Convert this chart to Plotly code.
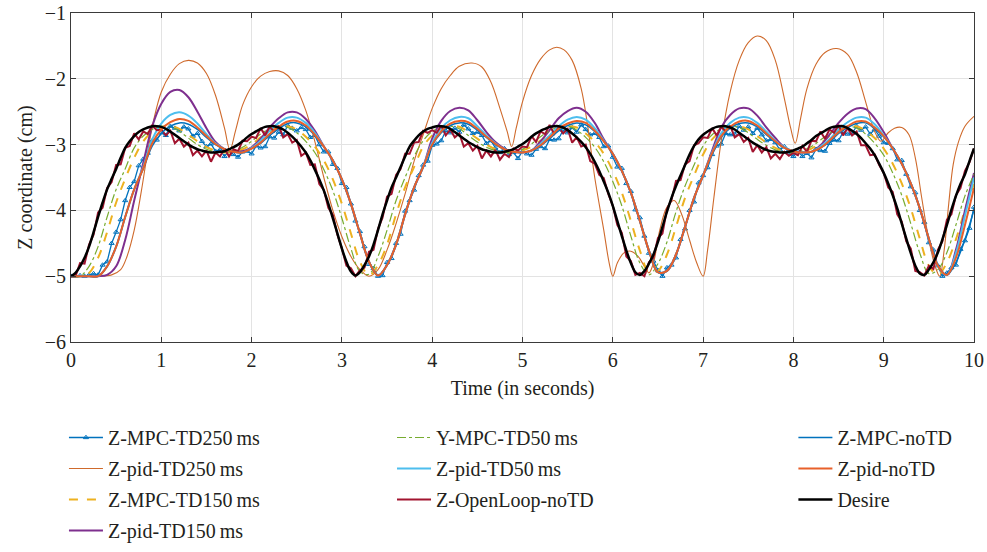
import plotly.graph_objects as go

# ---------------- time grids ----------------
time_fine = [0.00,0.05,0.10,0.15,0.20,0.25,0.30,0.35,0.40,0.45,0.50,0.55,0.60,0.65,0.70,0.75,0.80,0.85,0.90,0.95,
1.00,1.05,1.10,1.15,1.20,1.25,1.30,1.35,1.40,1.45,1.50,1.55,1.60,1.65,1.70,1.75,1.80,1.85,1.90,1.95,
2.00,2.05,2.10,2.15,2.20,2.25,2.30,2.35,2.40,2.45,2.50,2.55,2.60,2.65,2.70,2.75,2.80,2.85,2.90,2.95,
3.00,3.05,3.10,3.15,3.20,3.25,3.30,3.35,3.40,3.45,3.50,3.55,3.60,3.65,3.70,3.75,3.80,3.85,3.90,3.95,
4.00,4.05,4.10,4.15,4.20,4.25,4.30,4.35,4.40,4.45,4.50,4.55,4.60,4.65,4.70,4.75,4.80,4.85,4.90,4.95,
5.00,5.05,5.10,5.15,5.20,5.25,5.30,5.35,5.40,5.45,5.50,5.55,5.60,5.65,5.70,5.75,5.80,5.85,5.90,5.95,
6.00,6.05,6.10,6.15,6.20,6.25,6.30,6.35,6.40,6.45,6.50,6.55,6.60,6.65,6.70,6.75,6.80,6.85,6.90,6.95,
7.00,7.05,7.10,7.15,7.20,7.25,7.30,7.35,7.40,7.45,7.50,7.55,7.60,7.65,7.70,7.75,7.80,7.85,7.90,7.95,
8.00,8.05,8.10,8.15,8.20,8.25,8.30,8.35,8.40,8.45,8.50,8.55,8.60,8.65,8.70,8.75,8.80,8.85,8.90,8.95,
9.00,9.05,9.10,9.15,9.20,9.25,9.30,9.35,9.40,9.45,9.50,9.55,9.60,9.65,9.70,9.75,9.80,9.85,9.90,9.95,
10.00]

time_coarse = [0.0,0.1,0.2,0.3,0.4,0.5,0.6,0.7,0.8,0.9,1.0,1.1,1.2,1.3,1.4,1.5,1.6,1.7,1.8,1.9,
2.0,2.1,2.2,2.3,2.4,2.5,2.6,2.7,2.8,2.9,3.0,3.1,3.2,3.3,3.4,3.5,3.6,3.7,3.8,3.9,
4.0,4.1,4.2,4.3,4.4,4.5,4.6,4.7,4.8,4.9,5.0,5.1,5.2,5.3,5.4,5.5,5.6,5.7,5.8,5.9,
6.0,6.1,6.2,6.3,6.4,6.5,6.6,6.7,6.8,6.9,7.0,7.1,7.2,7.3,7.4,7.5,7.6,7.7,7.8,7.9,
8.0,8.1,8.2,8.3,8.4,8.5,8.6,8.7,8.8,8.9,9.0,9.1,9.2,9.3,9.4,9.5,9.6,9.7,9.8,9.9,10.0]

# ---------------- series (fine grid) ----------------
z_desire = [-5.00,-4.95,-4.85,-4.72,-4.55,-4.33,-4.10,-3.88,-3.68,-3.52,
-3.37,-3.20,-3.05,-2.95,-2.87,-2.81,-2.77,-2.74,-2.72,-2.72,
-2.73,-2.76,-2.80,-2.85,-2.90,-2.95,-3.00,-3.04,-3.07,-3.09,
-3.11,-3.12,-3.12,-3.11,-3.10,-3.07,-3.04,-3.00,-2.95,-2.89,
-2.84,-2.80,-2.76,-2.73,-2.72,-2.72,-2.74,-2.77,-2.82,-2.88,
-2.95,-3.03,-3.12,-3.24,-3.38,-3.53,-3.70,-3.90,-4.12,-4.35,
-4.58,-4.78,-4.93,-4.99,-4.94,-4.83,-4.70,-4.52,-4.30,-4.06,
-3.85,-3.65,-3.50,-3.34,-3.18,-3.03,-2.94,-2.86,-2.80,-2.76,
-2.74,-2.72,-2.72,-2.73,-2.76,-2.81,-2.86,-2.91,-2.96,-3.00,
-3.04,-3.07,-3.09,-3.11,-3.12,-3.12,-3.11,-3.09,-3.07,-3.03,
-2.99,-2.94,-2.88,-2.83,-2.79,-2.76,-2.73,-2.72,-2.72,-2.74,
-2.78,-2.83,-2.89,-2.96,-3.04,-3.14,-3.26,-3.40,-3.56,-3.73,
-3.93,-4.16,-4.39,-4.61,-4.80,-4.94,-4.98,-4.92,-4.81,-4.67,
-4.48,-4.25,-4.02,-3.81,-3.63,-3.47,-3.31,-3.15,-3.02,-2.92,
-2.85,-2.80,-2.76,-2.73,-2.72,-2.72,-2.74,-2.77,-2.82,-2.87,
-2.92,-2.97,-3.01,-3.05,-3.08,-3.10,-3.11,-3.12,-3.12,-3.11,
-3.09,-3.06,-3.03,-2.98,-2.93,-2.87,-2.83,-2.79,-2.75,-2.73,
-2.72,-2.72,-2.75,-2.79,-2.84,-2.90,-2.98,-3.06,-3.16,-3.29,
-3.43,-3.59,-3.77,-3.97,-4.20,-4.43,-4.65,-4.84,-4.96,-4.98,
-4.90,-4.79,-4.64,-4.44,-4.22,-3.99,-3.78,-3.60,-3.45,-3.25,
-3.06]

z_openloop_notd = [-5.00,-5.00,-4.80,-4.81,-4.52,-4.37,-4.03,-3.96,-3.66,-3.57,
-3.31,-3.30,-3.05,-3.02,-2.83,-2.92,-2.80,-2.84,-2.71,-2.78,
-2.77,-2.86,-2.79,-2.98,-2.91,-3.03,-2.97,-3.16,-3.09,-3.18,
-3.09,-3.26,-3.12,-3.18,-3.06,-3.18,-3.07,-3.10,-2.94,-2.95,
-2.88,-2.90,-2.75,-2.86,-2.73,-2.80,-2.71,-2.89,-2.84,-2.97,
-2.93,-3.17,-3.12,-3.31,-3.30,-3.60,-3.69,-3.96,-4.07,-4.37,
-4.58,-4.84,-4.88,-5.00,-4.91,-4.87,-4.63,-4.60,-4.28,-4.11,
-3.79,-3.75,-3.46,-3.37,-3.14,-3.14,-2.97,-2.96,-2.79,-2.82,
-2.78,-2.82,-2.71,-2.86,-2.77,-2.89,-2.83,-3.03,-2.98,-3.09,
-3.02,-3.21,-3.09,-3.18,-3.08,-3.23,-3.14,-3.19,-3.06,-3.09,
-3.03,-3.04,-2.87,-2.96,-2.80,-2.84,-2.70,-2.84,-2.74,-2.83,
-2.76,-2.97,-2.89,-3.03,-3.00,-3.25,-3.29,-3.46,-3.51,-3.75,
-3.93,-4.22,-4.34,-4.70,-4.77,-4.98,-4.95,-5.00,-4.79,-4.72,
-4.42,-4.35,-3.98,-3.84,-3.55,-3.54,-3.30,-3.25,-3.01,-2.98,
-2.89,-2.90,-2.75,-2.86,-2.73,-2.80,-2.71,-2.89,-2.84,-2.96,
-2.90,-3.11,-3.01,-3.12,-3.04,-3.21,-3.14,-3.22,-3.11,-3.17,
-3.13,-3.16,-3.02,-3.11,-2.94,-2.95,-2.80,-2.91,-2.77,-2.82,
-2.70,-2.86,-2.75,-2.86,-2.80,-3.01,-3.01,-3.16,-3.15,-3.31,
-3.43,-3.65,-3.72,-4.06,-4.17,-4.47,-4.58,-4.92,-4.94,-4.99,
-4.84,-4.89,-4.60,-4.47,-4.14,-4.06,-3.77,-3.66,-3.40,-3.27,
-3.06]

z_mpc_td250 = [-5.00,-5.00,-4.99,-5.00,-4.98,-4.96,-4.98,-4.83,-4.78,-4.50,
-4.33,-4.14,-3.85,-3.65,-3.56,-3.32,-3.22,-3.13,-2.94,-2.93,
-2.82,-2.86,-2.72,-2.75,-2.79,-2.73,-2.76,-2.87,-2.83,-2.95,
-3.03,-2.99,-3.10,-3.08,-3.18,-3.09,-3.15,-3.19,-3.11,-3.10,
-3.14,-3.02,-3.05,-3.03,-2.88,-2.90,-2.81,-2.85,-2.71,-2.75,
-2.79,-2.74,-2.77,-2.89,-2.86,-3.00,-3.11,-3.11,-3.30,-3.36,
-3.59,-3.65,-3.90,-4.16,-4.32,-4.55,-4.82,-4.88,-5.00,-4.99,
-4.79,-4.73,-4.50,-4.36,-4.01,-3.85,-3.69,-3.47,-3.31,-3.25,
-3.01,-2.99,-2.94,-2.79,-2.82,-2.75,-2.81,-2.70,-2.76,-2.83,
-2.81,-2.86,-2.98,-2.94,-3.05,-3.12,-3.06,-3.15,-3.12,-3.21,
-3.10,-3.14,-3.16,-3.07,-3.03,-3.06,-2.92,-2.93,-2.91,-2.78,
-2.82,-2.74,-2.81,-2.70,-2.77,-2.85,-2.83,-2.89,-3.03,-3.02,
-3.19,-3.34,-3.36,-3.59,-3.71,-3.99,-4.11,-4.39,-4.65,-4.77,
-4.91,-5.00,-4.87,-4.83,-4.72,-4.44,-4.28,-4.00,-3.87,-3.58,
-3.47,-3.35,-3.15,-3.02,-2.99,-2.83,-2.85,-2.84,-2.72,-2.78,
-2.73,-2.83,-2.75,-2.85,-2.94,-2.92,-2.97,-3.08,-3.03,-3.13,
-3.18,-3.10,-3.18,-3.13,-3.20,-3.07,-3.09,-3.10,-2.98,-2.93,
-2.94,-2.81,-2.84,-2.83,-2.72,-2.78,-2.73,-2.84,-2.77,-2.87,
-2.97,-2.98,-3.06,-3.23,-3.24,-3.45,-3.64,-3.73,-4.00,-4.18,
-4.49,-4.60,-4.84,-5.00,-4.95,-4.87,-4.83,-4.59,-4.46,-4.27,
-3.95]

# ---------------- series (coarse grid) ----------------
y_mpc_td50 = [-5.00,-5.00,-4.85,-4.55,-4.10,-3.68,-3.37,-3.05,-2.87,-2.77,
-2.72,-2.73,-2.80,-2.90,-3.00,-3.07,-3.11,-3.12,-3.10,-3.04,
-2.95,-2.84,-2.76,-2.72,-2.74,-2.82,-2.95,-3.12,-3.38,-3.70,
-4.12,-4.58,-4.93,-4.97,-4.70,-4.30,-3.85,-3.50,-3.18,-2.94,
-2.80,-2.74,-2.72,-2.76,-2.86,-2.96,-3.04,-3.09,-3.12,-3.11,
-3.07,-2.99,-2.88,-2.79,-2.73,-2.72,-2.78,-2.89,-3.04,-3.26,
-3.56,-3.93,-4.39,-4.80,-4.98,-4.81,-4.48,-4.02,-3.63,-3.31,
-3.02,-2.85,-2.76,-2.72,-2.74,-2.82,-2.92,-3.01,-3.08,-3.11,
-3.12,-3.09,-3.03,-2.93,-2.83,-2.75,-2.72,-2.75,-2.84,-2.98,
-3.16,-3.43,-3.77,-4.20,-4.65,-4.96,-4.90,-4.64,-4.22,-3.78,
-3.45]

z_mpc_td150 = [-5.00,-5.00,-4.95,-4.72,-4.33,-3.88,-3.52,-3.20,-2.95,-2.81,
-2.74,-2.72,-2.76,-2.85,-2.95,-3.04,-3.09,-3.12,-3.11,-3.07,
-3.00,-2.89,-2.80,-2.73,-2.72,-2.77,-2.88,-3.03,-3.24,-3.53,
-3.90,-4.35,-4.78,-4.99,-4.83,-4.52,-4.06,-3.65,-3.34,-3.03,
-2.86,-2.76,-2.72,-2.73,-2.81,-2.91,-3.00,-3.07,-3.11,-3.12,
-3.09,-3.03,-2.94,-2.83,-2.76,-2.72,-2.74,-2.83,-2.96,-3.14,
-3.40,-3.73,-4.16,-4.61,-4.94,-4.92,-4.67,-4.25,-3.81,-3.47,
-3.15,-2.92,-2.80,-2.73,-2.72,-2.77,-2.87,-2.97,-3.05,-3.10,
-3.12,-3.11,-3.06,-2.98,-2.87,-2.79,-2.73,-2.72,-2.79,-2.90,
-3.06,-3.29,-3.59,-3.97,-4.43,-4.84,-4.98,-4.79,-4.44,-3.99,
-3.60]

z_pid_td150 = [-5.00,-5.00,-5.00,-5.00,-4.98,-4.85,-4.45,-3.85,-3.28,-2.72,
-2.38,-2.20,-2.17,-2.28,-2.50,-2.75,-2.96,-3.07,-3.11,-3.10,
-3.04,-2.91,-2.74,-2.60,-2.51,-2.51,-2.61,-2.79,-3.03,-3.24,
-3.53,-3.90,-4.35,-4.78,-4.99,-4.83,-4.52,-4.06,-3.65,-3.34,
-2.91,-2.64,-2.49,-2.44,-2.48,-2.63,-2.81,-2.96,-3.06,-3.11,
-3.12,-3.09,-2.95,-2.78,-2.60,-2.49,-2.44,-2.50,-2.67,-2.92,
-3.14,-3.40,-3.73,-4.16,-4.61,-4.94,-4.92,-4.67,-4.25,-3.81,
-3.47,-3.09,-2.74,-2.55,-2.45,-2.45,-2.56,-2.74,-2.90,-3.04,
-3.10,-3.12,-3.11,-3.01,-2.85,-2.67,-2.53,-2.45,-2.46,-2.60,
-2.81,-3.06,-3.29,-3.59,-3.97,-4.43,-4.84,-4.98,-4.60,-4.00,
-3.43]

z_pid_td50 = [-5.00,-5.00,-5.00,-5.00,-4.85,-4.55,-4.10,-3.68,-3.34,-2.92,
-2.68,-2.55,-2.51,-2.56,-2.68,-2.84,-2.98,-3.07,-3.11,-3.12,
-3.05,-2.94,-2.79,-2.67,-2.59,-2.59,-2.67,-2.82,-3.03,-3.24,
-3.53,-3.90,-4.35,-4.78,-4.99,-4.83,-4.52,-4.06,-3.65,-3.34,
-2.97,-2.75,-2.63,-2.58,-2.60,-2.72,-2.86,-2.98,-3.07,-3.11,
-3.12,-3.09,-2.99,-2.86,-2.72,-2.62,-2.58,-2.62,-2.75,-2.94,
-3.14,-3.40,-3.73,-4.16,-4.61,-4.94,-4.92,-4.67,-4.25,-3.81,
-3.47,-3.12,-2.83,-2.67,-2.59,-2.59,-2.67,-2.80,-2.94,-3.04,
-3.10,-3.12,-3.11,-3.03,-2.92,-2.77,-2.66,-2.59,-2.59,-2.69,
-2.86,-3.06,-3.29,-3.59,-3.97,-4.43,-4.84,-4.98,-4.65,-4.08,
-3.50]

z_pid_notd = [-5.00,-5.00,-5.00,-5.00,-4.85,-4.55,-4.10,-3.68,-3.36,-2.98,
-2.77,-2.66,-2.61,-2.64,-2.74,-2.87,-2.99,-3.07,-3.11,-3.12,
-3.06,-2.97,-2.84,-2.73,-2.65,-2.64,-2.71,-2.85,-3.03,-3.24,
-3.53,-3.90,-4.35,-4.78,-4.99,-4.83,-4.52,-4.06,-3.65,-3.34,
-3.00,-2.80,-2.68,-2.64,-2.66,-2.76,-2.88,-2.99,-3.07,-3.11,
-3.12,-3.09,-3.01,-2.89,-2.76,-2.68,-2.64,-2.67,-2.79,-2.95,
-3.14,-3.40,-3.73,-4.16,-4.61,-4.94,-4.92,-4.67,-4.25,-3.81,
-3.47,-3.13,-2.87,-2.73,-2.65,-2.64,-2.71,-2.83,-2.95,-3.05,
-3.10,-3.12,-3.11,-3.05,-2.94,-2.81,-2.72,-2.65,-2.65,-2.74,
-2.87,-3.06,-3.29,-3.59,-3.97,-4.43,-4.84,-4.98,-4.72,-4.22,
-3.66]

z_mpc_notd = [-5.00,-5.00,-5.00,-5.00,-4.85,-4.55,-4.10,-3.68,-3.37,-3.02,
-2.83,-2.72,-2.67,-2.69,-2.77,-2.89,-3.00,-3.07,-3.11,-3.12,
-3.06,-2.98,-2.86,-2.76,-2.68,-2.67,-2.73,-2.86,-3.03,-3.24,
-3.53,-3.90,-4.35,-4.78,-4.99,-4.83,-4.52,-4.06,-3.65,-3.34,
-3.01,-2.82,-2.71,-2.67,-2.69,-2.78,-2.89,-3.00,-3.07,-3.11,
-3.12,-3.09,-3.02,-2.91,-2.79,-2.71,-2.67,-2.70,-2.80,-2.95,
-3.14,-3.40,-3.73,-4.16,-4.61,-4.94,-4.92,-4.67,-4.25,-3.81,
-3.47,-3.14,-2.89,-2.75,-2.68,-2.67,-2.73,-2.85,-2.96,-3.05,
-3.10,-3.12,-3.11,-3.05,-2.96,-2.83,-2.74,-2.68,-2.67,-2.76,
-2.88,-3.06,-3.29,-3.59,-3.97,-4.43,-4.84,-4.98,-4.79,-4.44,
-3.99]

# oscillating pid with 250 ms delay (own sample times)
t_pid_td250 = [0.0,0.3,0.45,0.55,0.62,0.7,0.78,0.85,0.92,1.0,1.1,1.2,1.3,1.4,1.5,1.6,1.7,1.76,1.82,1.9,
2.0,2.1,2.2,2.3,2.4,2.5,2.6,2.7,2.8,2.9,3.0,3.1,3.2,3.3,3.4,3.5,3.6,3.7,3.8,3.9,
4.0,4.1,4.2,4.3,4.44,4.55,4.65,4.75,4.83,4.88,4.93,5.0,5.1,5.2,5.3,5.38,5.46,5.55,5.65,5.72,
5.8,5.9,5.96,6.0,6.05,6.12,6.2,6.28,6.35,6.4,6.45,6.52,6.6,6.68,6.76,6.85,6.93,7.0,7.05,7.12,
7.2,7.3,7.4,7.5,7.6,7.7,7.8,7.9,7.97,8.02,8.08,8.15,8.25,8.35,8.48,8.6,8.7,8.8,8.9,8.97,
9.05,9.12,9.2,9.28,9.35,9.42,9.5,9.57,9.62,9.67,9.72,9.77,9.83,9.9,10.0]
z_pid_td250 = [-5.0,-5.0,-4.98,-4.9,-4.7,-4.3,-3.7,-3.1,-2.6,-2.2,-1.93,-1.77,-1.72,-1.76,-1.92,-2.25,-2.75,-3.08,-2.8,-2.4,
-2.12,-1.96,-1.89,-1.88,-1.95,-2.15,-2.48,-2.95,-3.5,-4.0,-4.4,-4.7,-4.9,-5.0,-4.9,-4.6,-4.2,-3.75,-3.25,-2.85,
-2.45,-2.15,-1.95,-1.81,-1.76,-1.82,-2.05,-2.45,-2.8,-3.03,-2.75,-2.35,-1.95,-1.7,-1.56,-1.52,-1.56,-1.72,-2.15,-2.7,
-3.5,-4.3,-4.8,-5.0,-4.8,-4.65,-4.62,-4.7,-4.85,-4.95,-4.8,-4.3,-3.95,-3.85,-4.05,-4.45,-4.8,-5.0,-4.6,-3.8,
-2.95,-2.2,-1.72,-1.45,-1.35,-1.42,-1.72,-2.3,-2.75,-2.98,-2.6,-2.15,-1.78,-1.6,-1.54,-1.63,-1.9,-2.35,-2.8,-2.95,
-2.82,-2.75,-2.74,-2.85,-3.2,-3.8,-4.45,-4.85,-5.0,-4.6,-3.9,-3.3,-2.95,-2.72,-2.57]

# ---------------- styling ----------------
FONT = "Liberation Serif"
TXT = "#231f20"
C_BLUE = "#0072BD"
C_YELLOW = "#EDB120"
C_PURPLE = "#7E2F8E"
C_GREEN = "#77AC30"
C_CYAN = "#4DBEEE"
C_RED = "#A2142F"

fig = go.Figure()

def add(x, y, name, color, width, dash="solid", legend="legend", mode="lines", shape="spline", marker=None):
    kw = dict(x=x, y=y, name=name, mode=mode, legend=legend, legendgroup=name,
              line=dict(color=color, width=width, dash=dash, shape=shape))
    if marker:
        kw["marker"] = marker
    fig.add_trace(go.Scatter(**kw))

add(time_fine, z_mpc_td250, "Z-MPC-TD250\u2009ms", C_BLUE, 1.3, mode="lines+markers", shape="linear",
    marker=dict(symbol="triangle-up-open", size=4.5, color=C_BLUE, line=dict(width=1, color=C_BLUE)))
add(t_pid_td250, z_pid_td250, "Z-pid-TD250\u2009ms", "#CF6A2C", 1.1)
add(time_coarse, z_mpc_td150, "Z-MPC-TD150\u2009ms", C_YELLOW, 2, dash="dash")
add(time_coarse, z_pid_td150, "Z-pid-TD150\u2009ms", C_PURPLE, 2)
add(time_coarse, y_mpc_td50, "Y-MPC-TD50\u2009ms", C_GREEN, 1.2, dash="dashdot", legend="legend2")
add(time_coarse, z_pid_td50, "Z-pid-TD50\u2009ms", C_CYAN, 2, legend="legend2")
add(time_fine, z_openloop_notd, "Z-OpenLoop-noTD", C_RED, 2, legend="legend2", shape="linear")
add(time_coarse, z_mpc_notd, "Z-MPC-noTD", C_BLUE, 1.5, legend="legend3")
add(time_coarse, z_pid_notd, "Z-pid-noTD", "#E8602A", 2, legend="legend3")
add(time_fine, z_desire, "Desire", "#000000", 2.5, legend="legend3")

leg_common = dict(font=dict(family=FONT, size=20, color=TXT), bgcolor="rgba(0,0,0,0)",
                  tracegroupgap=2, yanchor="top", xanchor="left", itemwidth=34)

fig.update_layout(
    width=987, height=552,
    margin=dict(l=71, r=13, t=13, b=210, autoexpand=False),
    paper_bgcolor="white", plot_bgcolor="white",
    font=dict(family=FONT, size=20, color=TXT),
    showlegend=True,
    legend=dict(x=-0.0078, y=-0.231, **leg_common),
    legend2=dict(x=0.3555, y=-0.231, **leg_common),
    legend3=dict(x=0.800, y=-0.231, **leg_common),
    xaxis=dict(range=[0, 10], tickvals=[0,1,2,3,4,5,6,7,8,9,10], showgrid=True, gridcolor="#e3e3e3",
               showline=True, linecolor="#3a3a3a", linewidth=1, mirror="ticks", ticks="inside", ticklen=5,
               tickcolor="#3a3a3a", zeroline=False, tickfont=dict(family=FONT, size=20), automargin=False,
               title=dict(text="Time (in seconds)", font=dict(family=FONT, size=20), standoff=10)),
    yaxis=dict(range=[-6, -1], tickvals=[-6,-5,-4,-3,-2,-1], showgrid=True, gridcolor="#e3e3e3",
               showline=True, linecolor="#3a3a3a", linewidth=1, mirror="ticks", ticks="inside", ticklen=5,
               tickcolor="#3a3a3a", zeroline=False, tickfont=dict(family=FONT, size=20), automargin=False,
               title=dict(text="Z coordinate (cm)", font=dict(family=FONT, size=20), standoff=6)),
)

# remove the default 8 px page margin so the figure sits at the window's top-left corner
fig.write_html("out.html",
               config={"displayModeBar": False},
               post_script="document.body.style.margin='0';document.body.style.overflow='hidden';")
